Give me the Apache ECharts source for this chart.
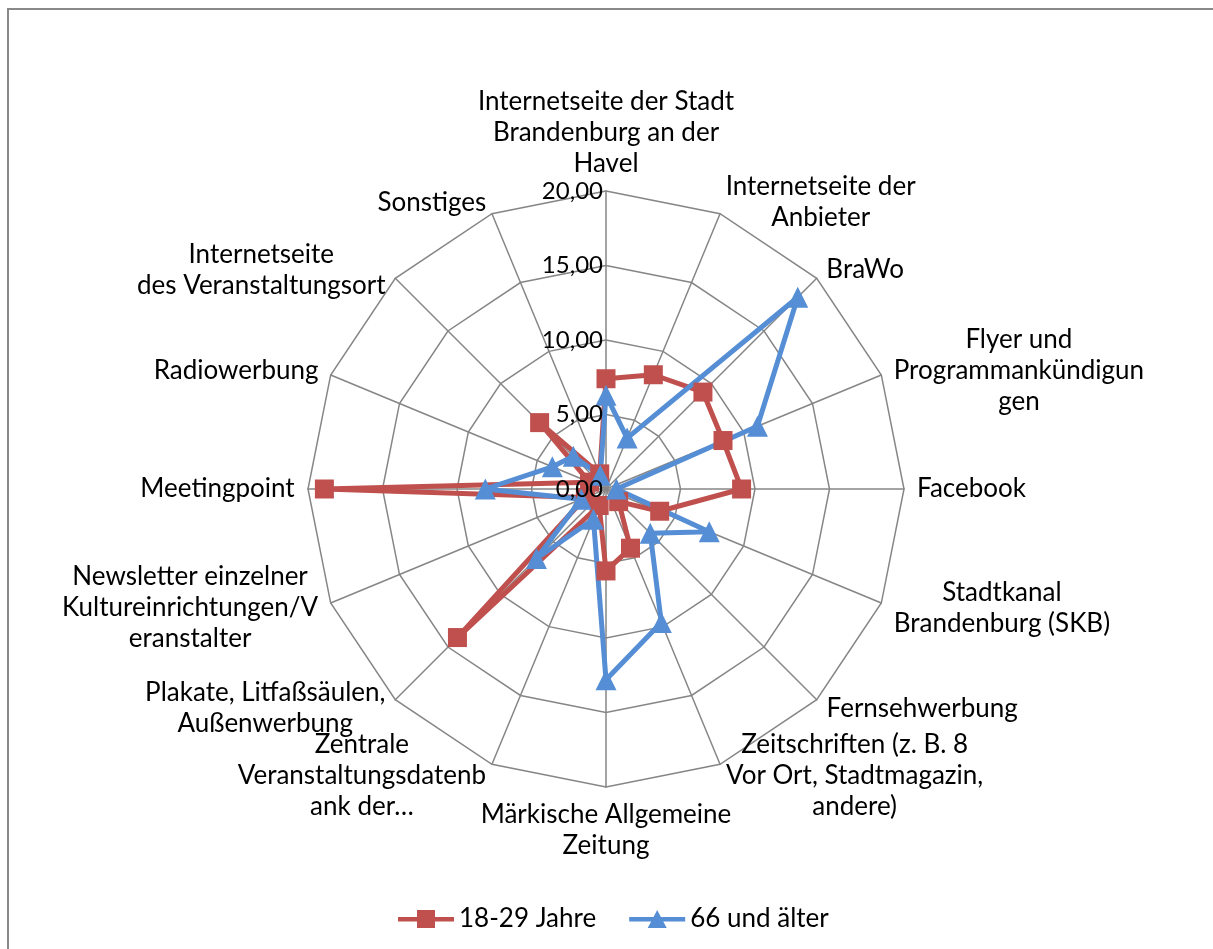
<!DOCTYPE html>
<html>
<head>
<meta charset="utf-8">
<script src="https://cdn.jsdelivr.net/npm/echarts@6/dist/echarts.min.js"></script>
<style>
  html, body { margin: 0; padding: 0; background: #fff; overflow: hidden; }
  #frame { position: absolute; left: 7px; top: 8px; width: 1230px; height: 970px; border: 2px solid #898989; box-sizing: border-box; }
  #main { position: absolute; left: 0; top: 0; width: 1213px; height: 949px; }
</style>
</head>
<body>
<div id="frame"></div>
<div id="main"></div>
<script>
// categories clockwise from the top, as in the original
var categories = [
  'Internetseite der Stadt\nBrandenburg an der\nHavel',
  'Internetseite der\nAnbieter',
  'BraWo',
  'Flyer und\nProgrammankündigun\ngen',
  'Facebook',
  'Stadtkanal\nBrandenburg (SKB)',
  'Fernsehwerbung',
  'Zeitschriften (z. B. 8\nVor Ort, Stadtmagazin,\nandere)',
  'Märkische Allgemeine\nZeitung',
  'Zentrale\nVeranstaltungsdatenb\nank der…',
  'Plakate, Litfaßsäulen,\nAußenwerbung',
  'Newsletter einzelner\nKultureinrichtungen/V\neranstalter',
  'Meetingpoint',
  'Radiowerbung',
  'Internetseite\ndes Veranstaltungsort',
  'Sonstiges'
];
var young = [7.4, 8.3, 9.2, 8.5, 9.1, 3.9, 1.2, 4.3, 5.5, 1.2, 14.1, 1.5, 18.9, 1.2, 6.3, 1.1];
var old   = [6.3, 3.7, 18.2, 11.0, 0.7, 7.5, 4.2, 9.7, 12.8, 2.2, 6.6, 1.8, 8.1, 3.9, 3.1, 1.0];
var seriesNames = ['18-29 Jahre', '66 und älter'];
var axisMax = 20;
var splitCount = 4;

var FONT = 'Lato';
var NAME_FS = 26;
var TICK_FS = 24;

var myChart = echarts.init(document.getElementById('main'));

// echarts radar runs counter-clockwise, so walk the list backwards after the first one
function ccw(arr) {
  return [arr[0]].concat(arr.slice(1).reverse());
}

var ctx = document.createElement('canvas').getContext('2d');
ctx.font = NAME_FS + 'px ' + FONT;
function blockWidth(name) {
  var w = 0;
  name.split('\n').forEach(function (l) { w = Math.max(w, ctx.measureText(l).width); });
  return Math.ceil(w) + 2;
}

var indicators = ccw(categories).map(function (name) {
  return {
    name: name,
    min: 0,
    max: axisMax,
    nameTextStyle: { rich: { c: { width: blockWidth(name) } } }
  };
});

// second radar only carries the tick labels, so they sit above the lines like in the original
var labelIndicators = ccw(categories).map(function (name, i) {
  var ind = { name: name, min: 0, max: axisMax };
  if (i === 0) ind.axisLabel = { show: true };
  return ind;
});

var baseRadar = {
  center: [606, 489],
  radius: 298,
  startAngle: 90,
  splitNumber: splitCount,
  shape: 'polygon'
};

var option = {
  backgroundColor: 'transparent',
  textStyle: { fontFamily: FONT },
  legend: {
    data: [
      { name: seriesNames[0], icon: 'path://M0,8L56,8L56,12.5L0,12.5Z M19,1L37,1L37,19L19,19Z' },
      { name: seriesNames[1], icon: 'path://M0,8L56,8L56,12.5L0,12.5Z M28,1L37.5,19L18.5,19Z' }
    ],
    left: 393,
    top: 901,
    itemWidth: 56,
    itemHeight: 20,
    itemGap: 33,
    textStyle: { fontSize: NAME_FS, fontFamily: FONT, color: '#000' }
  },
  radar: [
    Object.assign({}, baseRadar, {
      axisNameGap: 12,
      axisName: {
        formatter: function (name) {
          return name.split('\n').map(function (l) { return '{c|' + l + '}'; }).join('\n');
        },
        rich: {
          c: { fontSize: NAME_FS, fontFamily: FONT, color: '#000', align: 'center', lineHeight: 31 }
        }
      },
      axisLine: { lineStyle: { color: '#868686', width: 1.5 } },
      splitLine: { lineStyle: { color: '#868686', width: 1.5 } },
      splitArea: { show: false },
      axisTick: { show: false },
      axisLabel: { show: false },
      indicator: indicators
    }),
    Object.assign({}, baseRadar, {
      z: 10,
      axisName: { show: false },
      axisLine: { show: false },
      splitLine: { show: false },
      splitArea: { show: false },
      axisTick: { show: false },
      axisLabel: {
        show: false,
        fontSize: TICK_FS,
        fontFamily: FONT,
        color: '#000',
        margin: 3,
        formatter: function (v) { return v.toFixed(2).replace('.', ','); }
      },
      indicator: labelIndicators
    })
  ],
  series: [
    {
      type: 'radar',
      radarIndex: 0,
      data: [
        {
          name: seriesNames[0],
          value: ccw(young),
          symbol: 'rect',
          symbolSize: 19,
          itemStyle: { color: '#C0504D' },
          lineStyle: { color: '#C0504D', width: 5 }
        }
      ]
    },
    {
      type: 'radar',
      radarIndex: 0,
      data: [
        {
          name: seriesNames[1],
          value: ccw(old),
          symbol: 'triangle',
          symbolSize: 21,
          itemStyle: { color: '#558ED5' },
          lineStyle: { color: '#558ED5', width: 5 }
        }
      ]
    }
  ]
};

myChart.setOption(option);
</script>
</body>
</html>
